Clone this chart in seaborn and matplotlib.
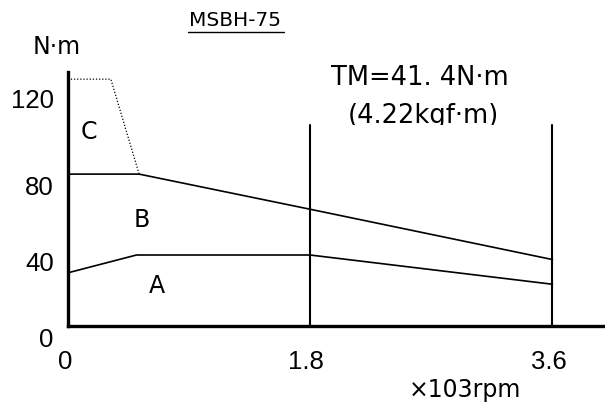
import matplotlib
matplotlib.use("Agg")
import matplotlib.pyplot as plt
import matplotlib.transforms as mtransforms
import seaborn as sns
import pandas as pd

# data
speed_a = [0, 0.51, 1.8, 3.6]
torque_a = [28, 37.4, 37.4, 22]
speed_b = [0, 0.53, 1.8, 3.6]
torque_b = [80, 80, 61.5, 35]
speed_c = [0, 0.32, 0.53]
torque_c = [130, 130, 80]
rated_speeds = [1.8, 3.6]
rated_height = 106
xticks = [0, 1.8, 3.6]
xtick_labels = ["0", "1.8", "3.6"]
yticks = [0, 40, 80, 120]
ytick_labels = ["0", "40", "80", "120"]
region_labels = ["A", "B", "C"]
region_pos = [(0.66, 21), (0.55, 56), (0.16, 102)]

sns.set_theme(style="white")
plt.rcParams["font.family"] = ["Liberation Sans", "DejaVu Sans"]
TXT = ["DejaVu Sans"]

fig = plt.figure(figsize=(6.05, 4.03), dpi=100)
ax = fig.add_axes([0.112, 0.191, 0.888, 0.63])

df_a = pd.DataFrame({"speed": speed_a, "torque": torque_a})
df_b = pd.DataFrame({"speed": speed_b, "torque": torque_b})
df_c = pd.DataFrame({"speed": speed_c, "torque": torque_c})
sns.lineplot(data=df_a, x="speed", y="torque", sort=False, estimator=None,
             color="black", linewidth=1.2, ax=ax)
sns.lineplot(data=df_b, x="speed", y="torque", sort=False, estimator=None,
             color="black", linewidth=1.2, ax=ax)
sns.lineplot(data=df_c, x="speed", y="torque", sort=False, estimator=None,
             color="black", linewidth=0.9, linestyle=(0, (1, 1.5)), ax=ax)
for s in rated_speeds:
    ax.plot([s, s], [0, rated_height], color="black", linewidth=1.5)

ax.set_xlim(0, 3.99)
ax.set_ylim(0, 133.7)
for side in ["top", "right"]:
    ax.spines[side].set_visible(False)
for side in ["left", "bottom"]:
    ax.spines[side].set_linewidth(2.4)
    ax.spines[side].set_color("black")
ax.set_xlabel("")
ax.set_ylabel("")
ax.set_xticks(xticks)
ax.set_xticklabels(xtick_labels)
ax.set_yticks(yticks)
ax.set_yticklabels(ytick_labels)
ax.tick_params(axis="both", length=0, labelsize=18.5, colors="black")
ax.tick_params(axis="x", pad=17)
ax.tick_params(axis="y", pad=10)


def shift(lab, dx, dy):
    lab.set_transform(lab.get_transform() +
                      mtransforms.ScaledTranslation(dx / 100, dy / 100, fig.dpi_scale_trans))


for lab in ax.get_yticklabels():
    if lab.get_text() != "120":
        shift(lab, 0, -11)
for lab in ax.get_xticklabels():
    if lab.get_text() == "0":
        shift(lab, -3, 0)
    if lab.get_text() == "1.8":
        shift(lab, -4, 0)
    if lab.get_text() == "3.6":
        shift(lab, -4, 0)

for lab, (x, y) in zip(region_labels, region_pos):
    ax.text(x, y, lab, fontsize=17, ha="center", va="center", color="black", family=TXT)

fig.text(235 / 605, 1 - 21 / 403, "MSBH-75", fontsize=14.5, ha="center", va="center",
         color="black", family=TXT)
fig.add_artist(plt.Line2D([188 / 605, 284 / 605], [1 - 32 / 403, 1 - 32 / 403],
                          color="black", linewidth=1.0))
fig.text(57 / 605, 1 - 47 / 403, "N·m", fontsize=17, ha="center", va="center",
         color="black", family=TXT)
fig.text(420 / 605, 1 - 78 / 403, "TM=41. 4N·m", fontsize=18.5, ha="center", va="center",
         color="black", family=TXT)
t2 = fig.text(423 / 605, 1 - 116 / 403, "(4.22kgf·m)", fontsize=18.5, ha="center",
              va="center", color="black", family=TXT)
clip = plt.Rectangle((0, 1 - 125 / 403), 1, 125 / 403, transform=fig.transFigure,
                     facecolor="none", edgecolor="none")
fig.add_artist(clip)
t2.set_clip_path(clip)
fig.text(465 / 605, 1 - 390 / 403, "×103rpm", fontsize=17, ha="center", va="center",
         color="black", family=TXT)

fig.savefig("out.png", dpi=100)
